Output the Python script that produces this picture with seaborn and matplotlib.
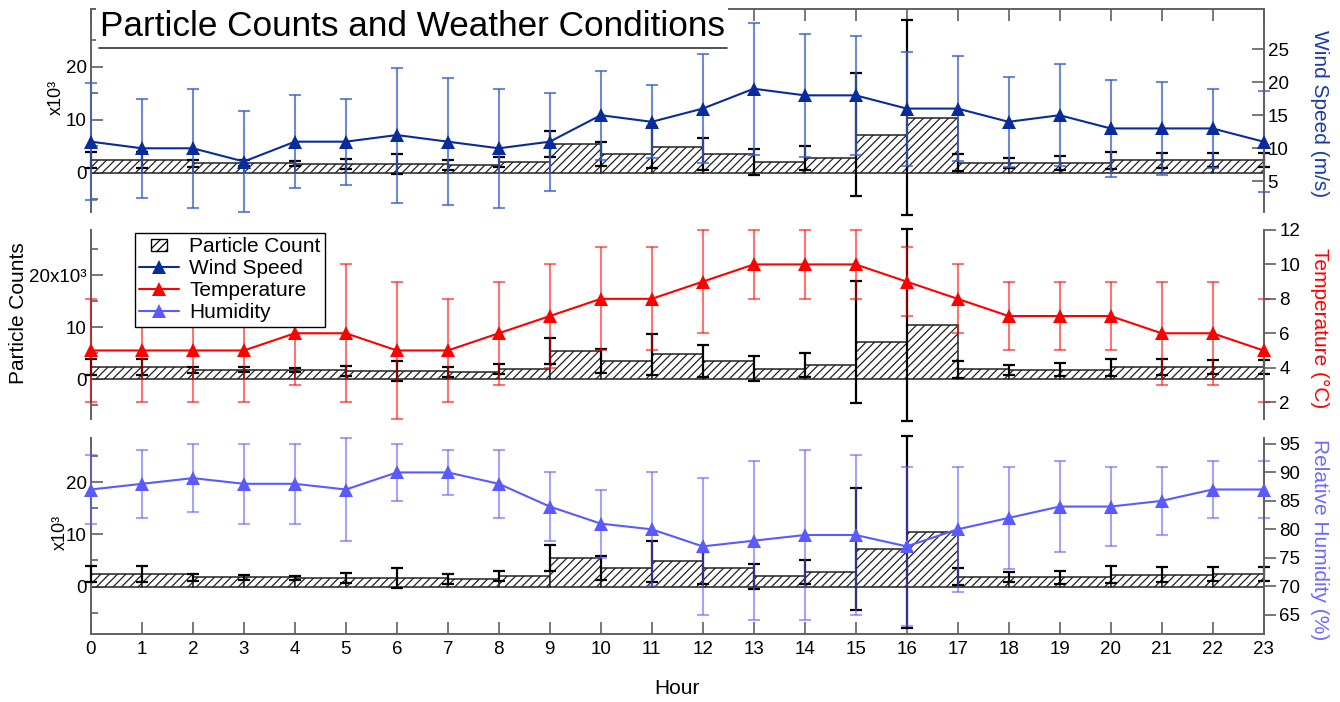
import matplotlib
matplotlib.use("Agg")
import matplotlib.pyplot as plt
import matplotlib.patches as mpatches
from matplotlib.lines import Line2D
from matplotlib.legend_handler import HandlerPatch
from matplotlib.ticker import FixedLocator, FixedFormatter, MultipleLocator
import seaborn as sns

# ---------------- data ----------------
hours = list(range(24))
particle_k = [2.4, 2.4, 1.8, 1.8, 1.7, 1.6, 1.6, 1.4, 2.0, 5.4, 3.5, 4.8,
              3.5, 2.0, 2.8, 7.2, 10.4, 1.9, 1.8, 1.8, 2.3, 2.3, 2.4, 2.4]
particle_err_k = [1.5, 1.55, 0.65, 0.5, 0.4, 1.0, 1.9, 1.0, 0.95, 2.5, 2.3, 3.9,
                  3.05, 2.4, 2.3, 11.7, 18.4, 1.65, 1.0, 1.25, 1.6, 1.5, 1.3, 1.35]
wind = [11, 10, 10, 8, 11, 11, 12, 11, 10, 11, 15, 14,
        16, 19, 18, 18, 16, 16, 14, 15, 13, 13, 13, 11]
wind_err = [8.8, 7.5, 9, 7.7, 7, 6.5, 10.2, 9.6, 9, 7.4, 6.7, 5.5,
            8.2, 10, 9.3, 9, 8.6, 7.9, 6.8, 7.7, 7.3, 7, 6, 7.6]
temp = [5, 5, 5, 5, 6, 6, 5, 5, 6, 7, 8, 8,
        9, 10, 10, 10, 9, 8, 7, 7, 7, 6, 6, 5]
temp_err = [3, 3, 3, 3, 3, 4, 4, 3, 3, 3, 3, 3,
            3, 2, 2, 2, 2, 2, 2, 2, 2, 3, 3, 3]
hum = [87, 88, 89, 88, 88, 87, 90, 90, 88, 84, 81, 80,
       77, 78, 79, 79, 77, 80, 82, 84, 84, 85, 87, 87]
hum_err = [6, 6, 6, 7, 7, 9, 5, 4, 6, 6, 6, 10,
           12, 14, 15, 14, 14, 11, 9, 8, 7, 6, 5, 5]

title = "Particle Counts and Weather Conditions"
series_names = ["Wind Speed", "Temperature", "Humidity"]
right_labels = ["Wind Speed (m/s)", "Temperature (°C)", "Relative Humidity (%)"]

# ---------------- style ----------------
sns.set_theme(style="ticks")
plt.rcParams["font.family"] = ["Liberation Sans", "DejaVu Sans"]
plt.rcParams["text.color"] = "black"
plt.rcParams["axes.labelcolor"] = "black"
plt.rcParams["hatch.linewidth"] = 0.9
plt.rcParams["hatch.color"] = "black"

W_COL, W_ERR = "#0a2b9c", "#3c62cc"
T_COL, T_ERR = "#ff0000", "#ff0000"
H_COL, H_ERR = "#5a5aff", "#5a5aff"
SPINE = "#606060"
TICK_FS = 13.5
LAB_FS = 15

fig = plt.figure(figsize=(13.4, 7.02), dpi=100)
FW, FH = 1340.0, 702.0
L = 91 / FW
Wd = (1263.5 - 91) / FW
boxes = [(9.3, 211.7), (230.0, 419.3), (438.3, 634.0)]
left_lims = [(-7.4, 30.9), (-7.7, 28.7), (-9.1, 28.4)]
right_lims = [(0.42, 31.0), (1.0, 12.0), (61.6, 96.0)]
right_ticks = [[5, 10, 15, 20, 25], [2, 4, 6, 8, 10, 12], [65, 70, 75, 80, 85, 90, 95]]
right_dir = ["in", "out", "out"]
values = [wind, temp, hum]
errs = [wind_err, temp_err, hum_err]
cols = [W_COL, T_COL, H_COL]
ecols = [W_ERR, T_ERR, H_ERR]
ealpha = [0.75, 0.55, 0.55]
lab_cols = ["#1a3aa8", "#ff0000", "#6a6aff"]

axes_r = []
for i in range(3):
    top, bot = boxes[i]
    ax = fig.add_axes([L, 1 - bot / FH, Wd, (bot - top) / FH])
    ax.set_xlim(0, 23)
    ax.set_ylim(*left_lims[i])
    ax.bar(hours, particle_k, width=1.0, align="edge", facecolor="white",
           edgecolor="#222222", linewidth=1.1, hatch="////", zorder=2)
    ax.errorbar(hours, particle_k, yerr=particle_err_k, fmt="none", ecolor="black",
                elinewidth=1.6, capsize=4.2, capthick=1.6, zorder=3, clip_on=False)
    # spines
    for s in ax.spines.values():
        s.set_color(SPINE)
        s.set_linewidth(1.4)
    ax.spines["right"].set_visible(False)
    ax.spines["top"].set_visible(i == 0)
    ax.spines["bottom"].set_visible(i == 2)
    ax.yaxis.set_major_locator(FixedLocator([0, 10, 20]))
    if i == 1:
        ax.yaxis.set_major_formatter(FixedFormatter(["0", "10", "20x10³"]))
    ax.yaxis.set_minor_locator(FixedLocator([-5, 5, 15, 25]))
    ax.tick_params(axis="y", which="major", direction="in", length=8.5, width=1.2,
                   color=SPINE, labelcolor="black", labelsize=TICK_FS, pad=3)
    ax.tick_params(axis="y", which="minor", direction="in", length=5, width=1.2,
                   color=SPINE, left=True)
    ax.xaxis.set_major_locator(MultipleLocator(1))
    if i == 0:
        ax.tick_params(axis="x", which="major", top=True, bottom=False, labeltop=False,
                       labelbottom=False, direction="in", length=8.5, width=1.2, color=SPINE)
    elif i == 1:
        ax.tick_params(axis="x", which="both", top=False, bottom=False,
                       labelbottom=False)
    else:
        ax.tick_params(axis="x", which="major", bottom=True, direction="in", length=8.5,
                       width=1.2, color=SPINE, labelcolor="black", labelsize=TICK_FS, pad=5)
    ax.set_ylabel("")
    ax.set_xlabel("")

    axr = ax.twinx()
    axr.set_ylim(*right_lims[i])
    axr.errorbar(hours, values[i], yerr=errs[i], fmt="none", ecolor=ecols[i],
                 alpha=ealpha[i], elinewidth=1.5, capsize=4.2, capthick=1.5,
                 clip_on=False, zorder=2)
    sns.lineplot(x=hours, y=values[i], ax=axr, color=cols[i], marker="^",
                 markersize=10, markeredgewidth=0, linewidth=1.5, clip_on=False,
                 legend=False, zorder=3)
    for k, s in axr.spines.items():
        s.set_visible(k == "right")
        s.set_color(SPINE)
        s.set_linewidth(1.4)
    axr.yaxis.set_major_locator(FixedLocator(right_ticks[i]))
    axr.tick_params(axis="y", which="major", direction=right_dir[i], length=8.5,
                    width=1.2, color=SPINE, labelcolor="black", labelsize=TICK_FS, pad=3)
    axr.set_ylabel("")
    axr.set_xlim(0, 23)
    fig.text(1320 / FW, 1 - ((top + bot) / 2 + 3) / FH, right_labels[i], rotation=270,
             ha="center", va="center", fontsize=LAB_FS, color=lab_cols[i])
    axes_r.append(axr)

# axis labels
fig.text(677 / FW, 1 - 688 / FH, "Hour", ha="center", va="center", fontsize=LAB_FS)
fig.text(56 / FW, 1 - 97 / FH, "x10³", rotation=90, ha="center", va="center", fontsize=13)
fig.text(60 / FW, 1 - 532 / FH, "x10³", rotation=90, ha="center", va="center", fontsize=13)
fig.text(19 / FW, 1 - 313 / FH, "Particle Counts", rotation=90, ha="center", va="center",
         fontsize=LAB_FS)

# title box
fig.patches.append(mpatches.Rectangle((96 / FW, 1 - 48 / FH), (728 - 96) / FW, 48 / FH,
                                      transform=fig.transFigure, facecolor="white",
                                      edgecolor="none", zorder=10))
fig.lines.append(Line2D([99 / FW, 727 / FW], [1 - 48 / FH, 1 - 48 / FH],
                        transform=fig.transFigure, color="#333333", lw=1.2, zorder=11))
fig.text(100 / FW, 1 - 27 / FH, title, ha="left", va="center", fontsize=25.3, zorder=12)


# legend
def small_rect(legend, orig_handle, xdescent, ydescent, width, height, fontsize):
    w = width * 0.42
    h = height * 0.85
    return mpatches.Rectangle((-xdescent + (width - w) / 2, -ydescent + (height - h) / 2),
                              w, h)


handles = [mpatches.Patch(facecolor="white", edgecolor="black", hatch="////",
                          linewidth=1.0, label="Particle Count")]
for name, c in zip(series_names, cols):
    handles.append(Line2D([0], [0], color=c, marker="^", markersize=10,
                          markeredgewidth=0, linewidth=1.5, label=name))
leg = axes_r[1].legend(handles=handles, loc="upper left",
                       bbox_to_anchor=(0.0375, 0.985), borderaxespad=0, fontsize=15,
                       frameon=True, fancybox=False, framealpha=1, edgecolor="black",
                       handlelength=1.9, handletextpad=0.5, labelspacing=0.15,
                       borderpad=0.2,
                       handler_map={mpatches.Patch: HandlerPatch(patch_func=small_rect)})
leg.get_frame().set_linewidth(1.0)
leg.set_zorder(20)

fig.savefig("out.png", dpi=100)
